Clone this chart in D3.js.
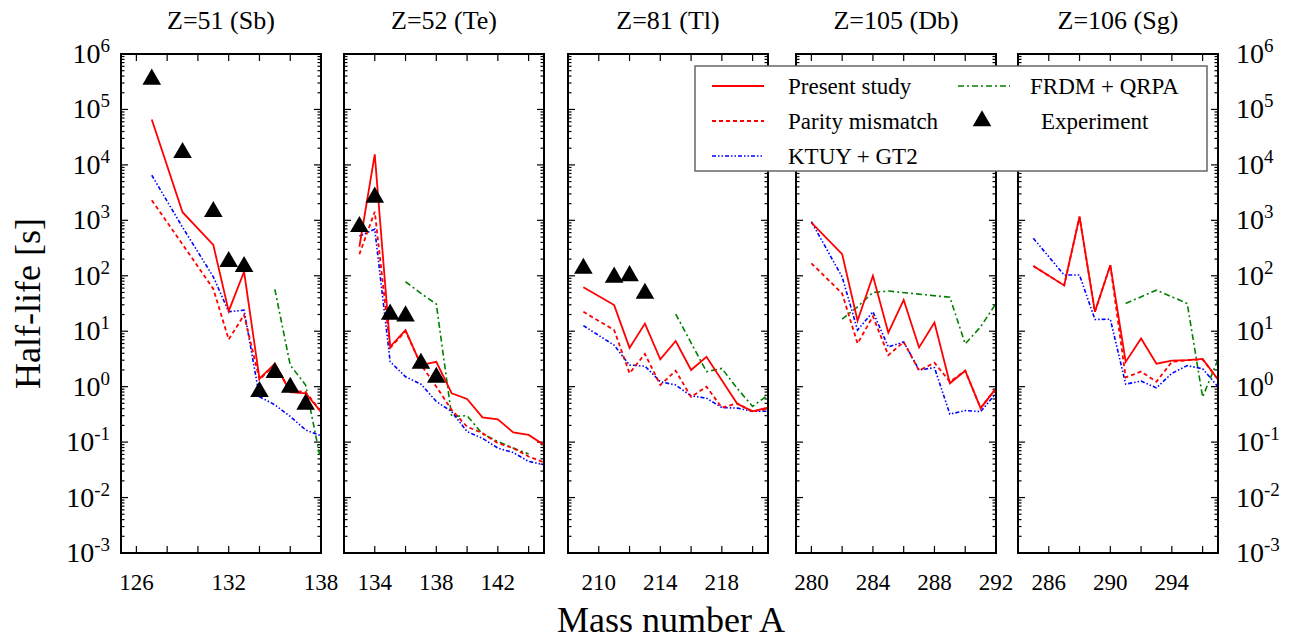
<!DOCTYPE html>
<html lang="en">
<head>
    <meta charset="UTF-8">
    <title>Half-life vs mass number</title>
    <style>
        body { margin: 0; background: #fff; }
        svg text { font-family: "Liberation Serif", "Times New Roman", Times, serif; fill: #000; }
        .frame { fill: none; stroke: #000; stroke-width: 2; }
        .tick { stroke: #000; stroke-width: 1.2; }
    </style>
</head>
<body>
    <div id="chart"></div>

    <script src="https://d3js.org/d3.v7.min.js"></script>

    <script>
        const width = 1307;
        const height = 639;
        const serif = "Liberation Serif";

        // panel titles and x axis setup
        const titles = ["Z=51 (Sb)", "Z=52 (Te)", "Z=81 (Tl)", "Z=105 (Db)", "Z=106 (Sg)"];
        const xDomains = [[125, 138], [132, 145], [208, 221], [279, 292], [284, 297]];
        const xTickLabels = [[126, 132, 138], [134, 138, 142], [210, 214, 218], [280, 284, 288, 292], [286, 290, 294]];
        const yTickExps = [-3, -2, -1, 0, 1, 2, 3, 4, 5, 6];

        // Z=51 (Sb)
        const sbPresent = [[127, 6.6e4], [129, 1.4e3], [131, 360], [132, 23], [133, 118], [134, 1.4], [135, 2.6], [136, 0.8], [137, 0.76], [138, 0.35]];
        const sbParity = [[127, 2.3e3], [129, 370], [131, 58], [132, 7.1], [133, 19.6], [134, 1.35], [135, 2.5], [136, 0.85], [137, 0.8], [138, 0.36]];
        const sbKtuy = [[127, 6.5e3], [129, 750], [131, 96], [132, 22.5], [133, 24], [134, 0.66], [135, 0.47], [136, 0.29], [137, 0.166], [138, 0.13]];
        const sbFrdm = [[135, 57], [136, 2.45], [137, 1.07], [138, 0.044]];
        const sbExp = [[127, 3.5e5], [129, 1.66e4], [131, 1.43e3], [132, 180], [133, 146], [134, 0.81], [135, 1.79], [136, 0.97], [137, 0.48]];

        // Z=52 (Te)
        const tePresent = [[133, 334], [134, 1.55e4], [135, 5.25], [136, 10.5], [137, 2.45], [138, 2.8], [139, 0.76], [140, 0.6], [141, 0.28], [142, 0.257], [143, 0.15], [144, 0.135], [145, 0.089]];
        const teParity = [[133, 244], [134, 1.43e3], [135, 5.0], [136, 10], [137, 2.5], [138, 1.0], [139, 0.38], [140, 0.19], [141, 0.145], [142, 0.096], [143, 0.078], [144, 0.055], [145, 0.043]];
        const teKtuy = [[133, 520], [134, 690], [135, 2.82], [136, 1.51], [137, 1.11], [138, 0.54], [139, 0.355], [140, 0.155], [141, 0.117], [142, 0.078], [143, 0.065], [144, 0.045], [145, 0.039]];
        const teFrdm = [[136, 78], [137, 48], [138, 31], [139, 0.29], [140, 0.30], [141, 0.14], [142, 0.103], [143, 0.078], [144, 0.061]];
        const teExp = [[133, 770], [134, 2.6e3], [135, 20.2], [136, 18.8], [137, 2.63], [138, 1.47]];

        // Z=81 (Tl)
        const tlPresent = [[209, 62], [211, 29.6], [212, 5.0], [213, 13.7], [214, 3.1], [215, 6.65], [216, 2.0], [217, 3.45], [219, 0.49], [220, 0.36], [221, 0.42]];
        const tlParity = [[209, 22.4], [211, 10.5], [212, 1.74], [213, 3.9], [214, 1.07], [215, 1.94], [216, 0.65], [217, 1.0], [218, 0.42], [219, 0.5], [220, 0.355], [221, 0.4]];
        const tlKtuy = [[209, 12.6], [211, 5.6], [212, 2.45], [213, 2.35], [214, 1.23], [215, 1.07], [216, 0.68], [217, 0.62], [218, 0.42], [219, 0.41], [220, 0.36], [221, 0.36]];
        const tlFrdm = [[215, 20.4], [217, 1.87], [218, 2.13], [219, 0.93], [220, 0.44], [221, 0.71]];
        const tlExp = [[209, 136], [211, 94], [212, 100], [213, 48]];

        // Z=105 (Db)
        const dbPresent = [[280, 906], [282, 246], [283, 15.4], [284, 100], [285, 9.4], [286, 36.6], [287, 5.1], [288, 14.3], [289, 1.15], [290, 1.94], [291, 0.41], [292, 0.93]];
        const dbParity = [[280, 168], [282, 48], [283, 6.0], [284, 18.6], [285, 3.7], [286, 6.4], [287, 1.95], [288, 2.7], [289, 1.23], [290, 1.94], [291, 0.41], [292, 0.93]];
        const dbKtuy = [[280, 944], [282, 95], [283, 10.5], [284, 22.4], [285, 5.2], [286, 6.4], [287, 2.0], [288, 2.2], [289, 0.32], [290, 0.37], [291, 0.355], [292, 0.76]];
        const dbFrdm = [[282, 16.6], [283, 27.6], [284, 50], [285, 53], [289, 41], [290, 5.9], [291, 12], [292, 31.7]];
        const dbExp = [];

        // Z=106 (Sg)
        const sgPresent = [[285, 150], [287, 67], [288, 1160], [289, 22.4], [290, 155], [291, 2.8], [292, 7.4], [293, 2.6], [294, 2.94], [295, 3.0], [296, 3.16], [297, 1.35]];
        const sgParity = [[285, 150], [287, 67], [288, 1160], [289, 22.4], [290, 155], [291, 1.47], [292, 1.87], [293, 1.23], [294, 2.8], [295, 3.0], [296, 3.1], [297, 1.35]];
        const sgKtuy = [[285, 473], [287, 103], [288, 103], [289, 16.3], [290, 16.5], [291, 1.11], [292, 1.26], [293, 0.95], [294, 1.74], [295, 2.4], [296, 2.1], [297, 1.0]];
        const sgFrdm = [[291, 31.7], [293, 55], [295, 31.7], [296, 0.65], [297, 3.1]];
        const sgExp = [];

        const panelData = [
            { present: sbPresent, parity: sbParity, ktuy: sbKtuy, frdm: sbFrdm, exp: sbExp },
            { present: tePresent, parity: teParity, ktuy: teKtuy, frdm: teFrdm, exp: teExp },
            { present: tlPresent, parity: tlParity, ktuy: tlKtuy, frdm: tlFrdm, exp: tlExp },
            { present: dbPresent, parity: dbParity, ktuy: dbKtuy, frdm: dbFrdm, exp: dbExp },
            { present: sgPresent, parity: sgParity, ktuy: sgKtuy, frdm: sgFrdm, exp: sgExp }
        ];

        const styles = {
            frdm:    { color: "#008000", width: 1.6, dash: "6,3,2,3" },
            ktuy:    { color: "#0000ff", width: 1.6, dash: "4,2,1.5,2,1.5,2" },
            parity:  { color: "#ff0000", width: 1.8, dash: "4,3" },
            present: { color: "#ff0000", width: 1.8, dash: null }
        };

        const panelLefts = [121, 344, 568, 796, 1018];
        const panelW = 200;
        const plotTop = 54, plotBottom = 553;

        const svg = d3.select("#chart")
            .append("svg")
            .attr("width", width)
            .attr("height", height)
            .attr("font-family", serif);

        const y = d3.scaleLog().domain([1e-3, 1e6]).range([plotBottom, plotTop]);

        const triangle = d3.symbol().type(d3.symbolTriangle).size(150);

        panelLefts.forEach((left, i) => {
            const x = d3.scaleLinear().domain(xDomains[i]).range([left, left + panelW]);
            const g = svg.append("g");

            g.append("clipPath").attr("id", "clip" + i)
                .append("rect")
                .attr("x", left).attr("y", plotTop)
                .attr("width", panelW).attr("height", plotBottom - plotTop);

            // x ticks every 2 units, top and bottom
            const xt = d3.range(Math.ceil(xDomains[i][0] / 2) * 2, xDomains[i][1], 2)
                .filter(v => v > xDomains[i][0]);
            xt.forEach(v => {
                g.append("line").attr("class", "tick")
                    .attr("x1", x(v)).attr("x2", x(v))
                    .attr("y1", plotBottom).attr("y2", plotBottom - 7);
                g.append("line").attr("class", "tick")
                    .attr("x1", x(v)).attr("x2", x(v))
                    .attr("y1", plotTop).attr("y2", plotTop + 7);
            });

            // y ticks, majors and minors, both sides
            yTickExps.forEach(e => {
                for (let m = 1; m <= 9; m++) {
                    const v = m * Math.pow(10, e);
                    if (v > 1e6) break;
                    const len = m === 1 ? 7 : 3.5;
                    g.append("line").attr("class", "tick")
                        .attr("x1", left).attr("x2", left + len)
                        .attr("y1", y(v)).attr("y2", y(v));
                    g.append("line").attr("class", "tick")
                        .attr("x1", left + panelW).attr("x2", left + panelW - len)
                        .attr("y1", y(v)).attr("y2", y(v));
                }
            });

            // x tick labels
            xTickLabels[i].forEach(v => {
                g.append("text")
                    .attr("x", x(v)).attr("y", plotBottom + 37)
                    .attr("text-anchor", "middle")
                    .attr("font-family", serif)
                    .attr("font-size", 23)
                    .text(v);
            });

            // title
            g.append("text")
                .attr("x", left + panelW / 2).attr("y", 29)
                .attr("text-anchor", "middle")
                .attr("font-family", serif)
                .attr("font-size", 26)
                .text(titles[i]);

            const line = d3.line()
                .x(d => x(d[0]))
                .y(d => y(d[1]));

            const plot = g.append("g").attr("clip-path", `url(#clip${i})`);
            ["frdm", "ktuy", "parity", "present"].forEach(key => {
                const s = styles[key];
                plot.append("path")
                    .datum(panelData[i][key])
                    .attr("d", line)
                    .attr("fill", "none")
                    .attr("stroke", s.color)
                    .attr("stroke-width", s.width)
                    .attr("stroke-dasharray", s.dash);
            });

            plot.selectAll(".exp")
                .data(panelData[i].exp)
                .enter()
                .append("path")
                .attr("class", "exp")
                .attr("d", triangle)
                .attr("transform", d => `translate(${x(d[0])},${y(d[1])})`)
                .attr("fill", "#000");

            g.append("rect").attr("class", "frame")
                .attr("x", left).attr("y", plotTop)
                .attr("width", panelW).attr("height", plotBottom - plotTop);
        });

        // y tick labels: left of first panel, right of last panel
        function powLabel(sel, e) {
            sel.attr("font-family", serif);
            sel.append("tspan").attr("font-size", 28).text("10");
            sel.append("tspan").attr("font-size", 19).attr("dy", -11).text(e);
        }
        yTickExps.forEach(e => {
            const ly = y(Math.pow(10, e)) + 9;
            const tl = svg.append("text")
                .attr("x", 110).attr("y", ly)
                .attr("text-anchor", "end");
            powLabel(tl, e);
            const tr = svg.append("text")
                .attr("x", 1236).attr("y", ly);
            powLabel(tr, e);
        });

        // axis titles
        svg.append("text")
            .attr("transform", `translate(40, ${(plotTop + plotBottom) / 2}) rotate(-90)`)
            .attr("text-anchor", "middle")
            .attr("font-family", serif)
            .attr("font-size", 36)
            .text("Half-life [s]");

        svg.append("text")
            .attr("x", 671).attr("y", 632)
            .attr("text-anchor", "middle")
            .attr("font-family", serif)
            .attr("font-size", 36)
            .text("Mass number A");

        // legend
        const legend = svg.append("g");
        legend.append("rect")
            .attr("x", 695).attr("y", 66)
            .attr("width", 512).attr("height", 105)
            .attr("fill", "#fff")
            .attr("stroke", "#666")
            .attr("stroke-width", 1.5);

        const legendItems = [
            { key: "present", label: "Present study", col: 0, row: 0 },
            { key: "parity", label: "Parity mismatch", col: 0, row: 1 },
            { key: "ktuy", label: "KTUY + GT2", col: 0, row: 2 },
            { key: "frdm", label: "FRDM + QRPA", col: 1, row: 0 },
            { key: "exp", label: "Experiment", col: 1, row: 1 }
        ];
        const colX = [712, 958];
        const rowY = [86, 121, 156];
        legendItems.forEach(it => {
            const lx = colX[it.col], ly = rowY[it.row];
            if (it.key === "exp") {
                legend.append("path")
                    .attr("d", triangle)
                    .attr("transform", `translate(${lx + 24},${ly})`)
                    .attr("fill", "#000");
            } else {
                const s = styles[it.key];
                legend.append("line")
                    .attr("x1", lx).attr("x2", lx + 52)
                    .attr("y1", ly).attr("y2", ly)
                    .attr("stroke", s.color)
                    .attr("stroke-width", s.width)
                    .attr("stroke-dasharray", s.dash);
            }
            legend.append("text")
                .attr("x", lx + (it.col === 0 ? 76 : (it.key === "exp" ? 83 : 72))).attr("y", ly + 8)
                .attr("font-family", serif)
                .attr("font-size", 23)
                .text(it.label);
        });
    </script>
</body>
</html>
